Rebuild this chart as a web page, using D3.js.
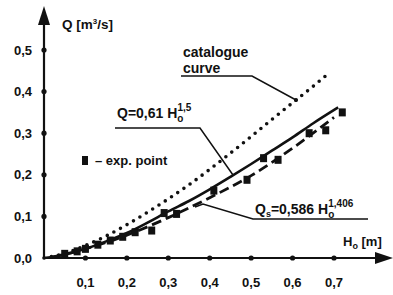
<!DOCTYPE html>
<html><head><meta charset="utf-8">
<script src="https://cdn.jsdelivr.net/npm/d3@7"></script>
<style>body{margin:0;background:#fff}svg{display:block}text{font-family:"Liberation Sans",Arial,sans-serif;font-weight:bold;fill:#111}</style>
</head><body><svg id="c" width="393" height="295"></svg>
<script>
const xTicks=[0.1,0.2,0.3,0.4,0.5,0.6,0.7];
const xTickLabels=["0,1","0,2","0,3","0,4","0,5","0,6","0,7"];
const yTicks=[0.0,0.1,0.2,0.3,0.4,0.5];
const yTickLabels=["0,0","0,1","0,2","0,3","0,4","0,5"];
// Q=0,61 H^1,5 (solid)
const solidH=[0,0.05,0.1,0.15,0.2,0.25,0.3,0.35,0.4,0.45,0.5,0.55,0.6,0.65,0.71];
const solidQ=[0,0.008,0.022,0.040,0.060,0.085,0.112,0.137,0.165,0.195,0.226,0.258,0.290,0.324,0.362];
// catalogue curve (dotted)
const catH=[0,0.05,0.1,0.15,0.2,0.25,0.3,0.35,0.4,0.45,0.5,0.55,0.6,0.65,0.686];
const catQ=[0,0.011,0.030,0.053,0.080,0.110,0.142,0.176,0.213,0.252,0.292,0.333,0.373,0.413,0.443];
// Qs=0,586 H^1,406 (dashed)
const dashH=[0.02,0.1,0.2,0.3,0.4,0.5,0.6,0.7];
const dashQ=[0.002,0.022,0.055,0.097,0.145,0.198,0.264,0.338];
// experimental points
const expH=[0.05,0.08,0.10,0.13,0.16,0.19,0.22,0.26,0.29,0.32,0.41,0.49,0.53,0.565,0.64,0.68,0.72];
const expQ=[0.010,0.016,0.022,0.032,0.042,0.051,0.062,0.066,0.108,0.106,0.162,0.188,0.240,0.236,0.300,0.307,0.350];

const svg=d3.select("#c");
const x=d3.scaleLinear().domain([0,0.7]).range([44,334]);
const y=d3.scaleLinear().domain([0,0.5]).range([258,50]);
const X0=x(0),Y0=y(0);
// axes
svg.append("line").attr("x1",X0).attr("y1",Y0).attr("x2",380).attr("y2",Y0).attr("stroke","#111").attr("stroke-width",2.2);
svg.append("path").attr("d",`M393,${Y0} L375,${Y0-6} L375,${Y0+6} Z`).attr("fill","#111");
svg.append("line").attr("x1",X0).attr("y1",Y0).attr("x2",X0).attr("y2",20).attr("stroke","#111").attr("stroke-width",2.2);
svg.append("path").attr("d",`M${X0},6 L${X0-6},25 L${X0+6},25 Z`).attr("fill","#111");
// tick dots
svg.selectAll(".xt").data(xTicks).join("circle").attr("cx",d=>x(d)).attr("cy",Y0).attr("r",2.6).attr("fill","#111");
svg.selectAll(".yt").data(yTicks.slice(1)).join("circle").attr("cx",X0).attr("cy",d=>y(d)).attr("r",2.6).attr("fill","#111");
svg.selectAll(".xl").data(xTicks).join("text").attr("x",d=>x(d)).attr("y",287).attr("text-anchor","middle").attr("font-size",13).text((d,i)=>xTickLabels[i]);
svg.selectAll(".yl").data(yTicks).join("text").attr("x",32).attr("y",d=>y(d)+4.5).attr("text-anchor","end").attr("font-size",13).text((d,i)=>yTickLabels[i]);
// curves
const line=d3.line().x(d=>x(d[0])).y(d=>y(d[1])).curve(d3.curveMonotoneX);
svg.append("path").attr("d",line(catH.map((h,i)=>[h,catQ[i]]))).attr("fill","none").attr("stroke","#111").attr("stroke-width",3.6).attr("stroke-linecap","round").attr("stroke-dasharray","0 7.5");
svg.append("path").attr("d",line(dashH.map((h,i)=>[h,dashQ[i]]))).attr("fill","none").attr("stroke","#111").attr("stroke-width",2.8).attr("stroke-dasharray","10 5");
svg.append("path").attr("d",line(solidH.map((h,i)=>[h,solidQ[i]]))).attr("fill","none").attr("stroke","#111").attr("stroke-width",2.6);
svg.selectAll(".ep").data(expH).join("rect").attr("x",(d)=>x(d)-3.5).attr("y",(d,i)=>y(expQ[i])-4).attr("width",7).attr("height",8).attr("fill","#111");
// labels
svg.append("text").attr("x",62).attr("y",29).attr("font-size",13.5).html('Q [m<tspan dy="-5" font-size="8">3</tspan><tspan dy="5">/s]</tspan>');
svg.append("text").attr("x",183).attr("y",57).attr("font-size",14).text("catalogue");
svg.append("text").attr("x",183).attr("y",73).attr("font-size",14).text("curve");
svg.append("path").attr("d","M181,76 L252,76 L296,100").attr("fill","none").attr("stroke","#111").attr("stroke-width",1.5);
svg.append("circle").attr("cx",296).attr("cy",100).attr("r",2).attr("fill","#111");
const t1=svg.append("text").attr("x",117).attr("y",118).attr("font-size",14);
t1.append("tspan").text("Q=0,61 H");
t1.append("tspan").attr("font-size",10).attr("dy",4).text("o");
t1.append("tspan").attr("font-size",10).attr("dx",-6).attr("dy",-11).text("1,5");
svg.append("path").attr("d","M115,128 L200,128 L233,175").attr("fill","none").attr("stroke","#111").attr("stroke-width",1.5);
svg.append("rect").attr("x",82).attr("y",156).attr("width",6).attr("height",9).attr("fill","#111");
svg.append("text").attr("x",95).attr("y",165).attr("font-size",13).text("– exp. point");
const t2=svg.append("text").attr("x",255).attr("y",214).attr("font-size",14);
t2.append("tspan").text("Q");
t2.append("tspan").attr("font-size",9).attr("dy",3).text("s");
t2.append("tspan").attr("dy",-3).text("=0,586 H");
t2.append("tspan").attr("font-size",10).attr("dy",4).text("o");
t2.append("tspan").attr("font-size",10).attr("dx",-6).attr("dy",-11).text("1,406");
svg.append("path").attr("d","M368,219 L253,219 L203,204 L195,207").attr("fill","none").attr("stroke","#111").attr("stroke-width",1.5);
svg.append("text").attr("x",343).attr("y",246).attr("font-size",13).html('H<tspan font-size="9" dy="3">o</tspan><tspan dy="-3"> [m]</tspan>');
</script></body></html>
